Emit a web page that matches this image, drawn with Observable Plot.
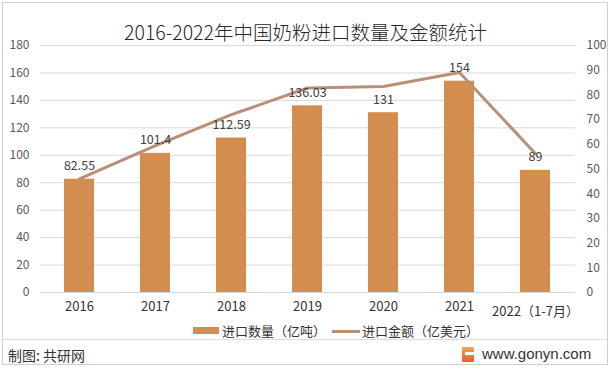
<!DOCTYPE html>
<html>
<head>
<meta charset="utf-8">
<script src="https://cdn.jsdelivr.net/npm/d3@7"></script>
<script src="https://cdn.jsdelivr.net/npm/@observablehq/plot@0.6"></script>
<style>
  html, body { margin: 0; padding: 0; background: #fff; }
  #wrap { position: relative; width: 611px; height: 370px; overflow: hidden; font-family: "Noto Sans CJK SC", sans-serif; color: #333; }
  #frame { position: absolute; left: 2px; top: 2px; width: 604px; height: 361px; border: 1px solid #d0d0d0; }
  #title { position: absolute; left: 0; width: 611px; top: 19px; text-align: center; font-size: 19.5px; font-weight: 300; line-height: 26px; color: #262626; }
  #chart { position: absolute; left: 0; top: 0; }
  .lg { position: absolute; top: 322px; font-size: 13px; line-height: 18px; color: #333; white-space: nowrap; }
  .sw { position: absolute; }
  #sep { position: absolute; left: 3px; top: 339px; width: 604px; height: 1px; background: #dcdcdc; }
  #credit { position: absolute; left: 8px; top: 345px; font-size: 14px; line-height: 20px; color: #333; }
  #site { position: absolute; left: 462px; top: 344px; display: flex; align-items: center; }
  #logo { width: 12px; height: 15px; background: linear-gradient(#f7a650, #ea5a2c); margin-right: 8px; border-radius: 1px; position: relative; }
  #logo::after { content: ""; position: absolute; left: 3px; top: 5px; width: 9px; height: 3px; background: #fff; }
  #url { font-family: "Liberation Sans", Arial, sans-serif; font-size: 15px; line-height: 20px; color: #333; }
</style>
</head>
<body>
<div id="wrap">
  <div id="frame"></div>
  <div id="chart"></div>
  <div id="title">2016-2022年中国奶粉进口数量及金额统计</div>
  <div id="legend"></div>
  <div id="sep"></div>
  <div id="credit">制图: 共研网</div>
  <div id="site"><div id="logo"></div><span id="url">www.gonyn.com</span></div>
</div>
<script>
const years = ["2016", "2017", "2018", "2019", "2020", "2021", "2022（1-7月）"];
const quantity = [82.55, 101.4, 112.59, 136.03, 131, 154, 89];
const amount = [46, 59.5, 72, 82.8, 83.4, 89.1, 56.2];
const leftTicks = [0, 20, 40, 60, 80, 100, 120, 140, 160, 180];
const rightTicks = [0, 10, 20, 30, 40, 50, 60, 70, 80, 90, 100];
const seriesNames = ["进口数量（亿吨）", "进口金额（亿美元）"];
const barColor = "#D38D4E";
const lineColor = "#BA8F78";

const k = 180 / 100;
const data = years.map((year, i) => ({year, quantity: quantity[i], amount: amount[i]}));

const chart = Plot.plot({
  width: 611,
  height: 325,
  marginLeft: 40,
  marginRight: 36,
  marginTop: 45,
  marginBottom: 33,
  style: {fontFamily: '"Noto Sans CJK SC", sans-serif', background: "transparent", overflow: "visible"},
  x: {domain: years, paddingInner: 0.6, paddingOuter: 0.3, axis: null},
  y: {domain: [0, 180], axis: null},
  marks: [
    Plot.gridY(leftTicks, {stroke: "#d9d9d9", strokeOpacity: 1}),
    Plot.barY(data, {x: "year", y: "quantity", fill: barColor}),
    Plot.line(data, {x: "year", y: d => d.amount * k, stroke: lineColor, strokeWidth: 3}),
    Plot.text(data, {x: "year", y: "quantity", text: d => String(d.quantity), dy: -13, fontSize: 12.5, fill: "#404040"}),
    Plot.axisY({ticks: leftTicks, anchor: "left", label: null, tickSize: 0, tickPadding: 11, fontSize: 12, color: "#595959"}),
    Plot.axisY({ticks: rightTicks.map(d => d * k), anchor: "right", label: null, tickSize: 0, tickPadding: 11, fontSize: 12, color: "#595959", tickFormat: d => String(Math.round(d / k))}),
    Plot.axisX({ticks: years.slice(0, 6), label: null, tickSize: 0, tickPadding: 9, fontSize: 13, color: "#333"}),
    Plot.axisX({ticks: years.slice(6), label: null, tickSize: 0, tickPadding: 14, fontSize: 13, color: "#333"})
  ]
});
document.getElementById("chart").appendChild(chart);

const legend = document.getElementById("legend");
legend.innerHTML =
  `<span class="sw" style="left:193px;top:327px;width:26px;height:7px;background:${barColor}"></span>` +
  `<span class="lg" style="left:222px">${seriesNames[0]}</span>` +
  `<span class="sw" style="left:332px;top:330px;width:28px;height:3px;background:${lineColor}"></span>` +
  `<span class="lg" style="left:362px">${seriesNames[1]}</span>`;
</script>
</body>
</html>
